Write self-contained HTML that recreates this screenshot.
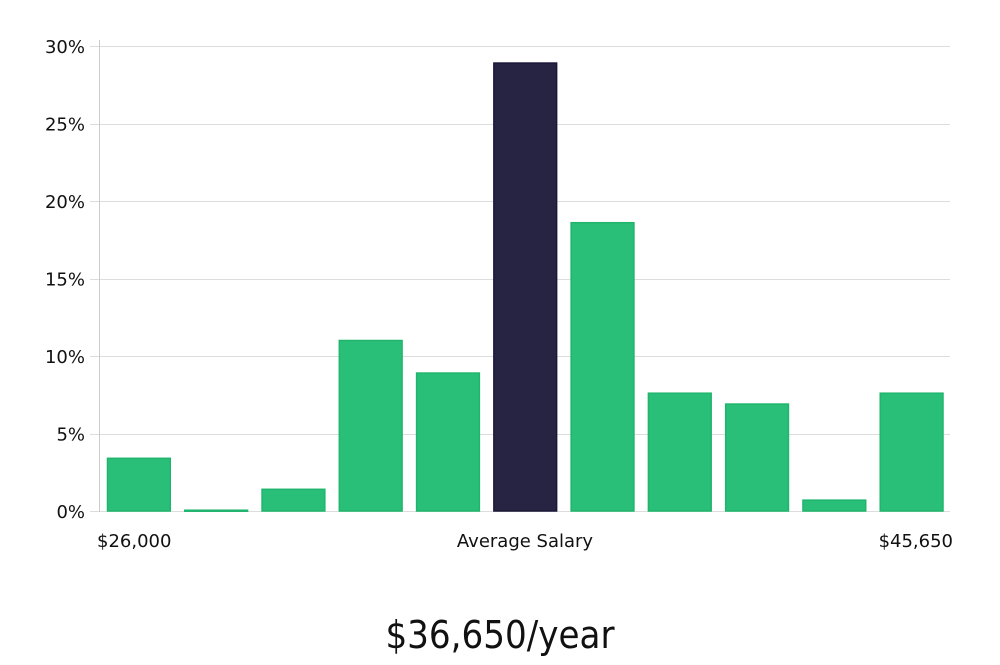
<!DOCTYPE html>
<html><head><meta charset="utf-8"><style>
body{margin:0;background:#fff;}
svg text{font-family:"DejaVu Sans","Liberation Sans",sans-serif;fill:#111;}
</style></head><body>
<svg width="1000" height="660" xmlns="http://www.w3.org/2000/svg">
<g id="grid"></g>
<g id="bars"></g>
<g id="ylab"></g>
<line x1="99.5" y1="40" x2="99.5" y2="512" stroke="#ccc"/>
<text x="97" y="547" font-size="18">$26,000</text>
<text x="525" y="547" font-size="18" text-anchor="middle">Average Salary</text>
<text x="953" y="547" font-size="18" text-anchor="end">$45,650</text>
<text x="500" y="648" font-size="38" text-anchor="middle" style="font-family:'Liberation Sans Narrow','DejaVu Sans Condensed','Liberation Sans',sans-serif">$36,650/year</text>
</svg>
<script>
const values=[3.4,0.05,1.4,11.0,8.9,28.9,18.6,7.6,6.9,0.7,7.6];
const highlight=[false,false,false,false,false,true,false,false,false,false,false];
const ticks=[0,5,10,15,20,25,30];
const tickLabels=["0%","5%","10%","15%","20%","25%","30%"];
const ns="http://www.w3.org/2000/svg";
const y0=511,y1=46,x0=100,x1=950;
const y=v=>y0-(v/30)*(y0-y1);
const slot=(x1-x0)/values.length;
const grid=document.getElementById('grid'),bars=document.getElementById('bars'),yl=document.getElementById('ylab');
ticks.forEach((t,i)=>{
 const l=document.createElementNS(ns,'line');
 
 
 l.setAttribute('x1',90);l.setAttribute('x2',x1);
 l.setAttribute('y1',Math.round(y(t))+0.5);l.setAttribute('y2',Math.round(y(t))+0.5);
 l.setAttribute('stroke','#ddd');grid.appendChild(l);
 const tx=document.createElementNS(ns,'text');
 
 
 tx.setAttribute('x',85);tx.setAttribute('y',y(t)+7);
 tx.setAttribute('text-anchor','end');tx.setAttribute('font-size','18');
 tx.textContent=tickLabels[i];yl.appendChild(tx);
});
values.forEach((v,i)=>{
 const r=document.createElementNS(ns,'rect');
 
 
 const top=y(v);
 r.setAttribute('x',x0+i*slot+7.5);r.setAttribute('width',slot-14.5);
 r.setAttribute('y',top);r.setAttribute('height',Math.max(y0-top,1));
 r.setAttribute('fill',highlight[i]?'#272443':'#2abf78');
 r.setAttribute('stroke',highlight[i]?'#1a1738':'#20b56d');
 r.setAttribute('stroke-width','1.5');
 bars.appendChild(r);
});
</script>
</body></html>
